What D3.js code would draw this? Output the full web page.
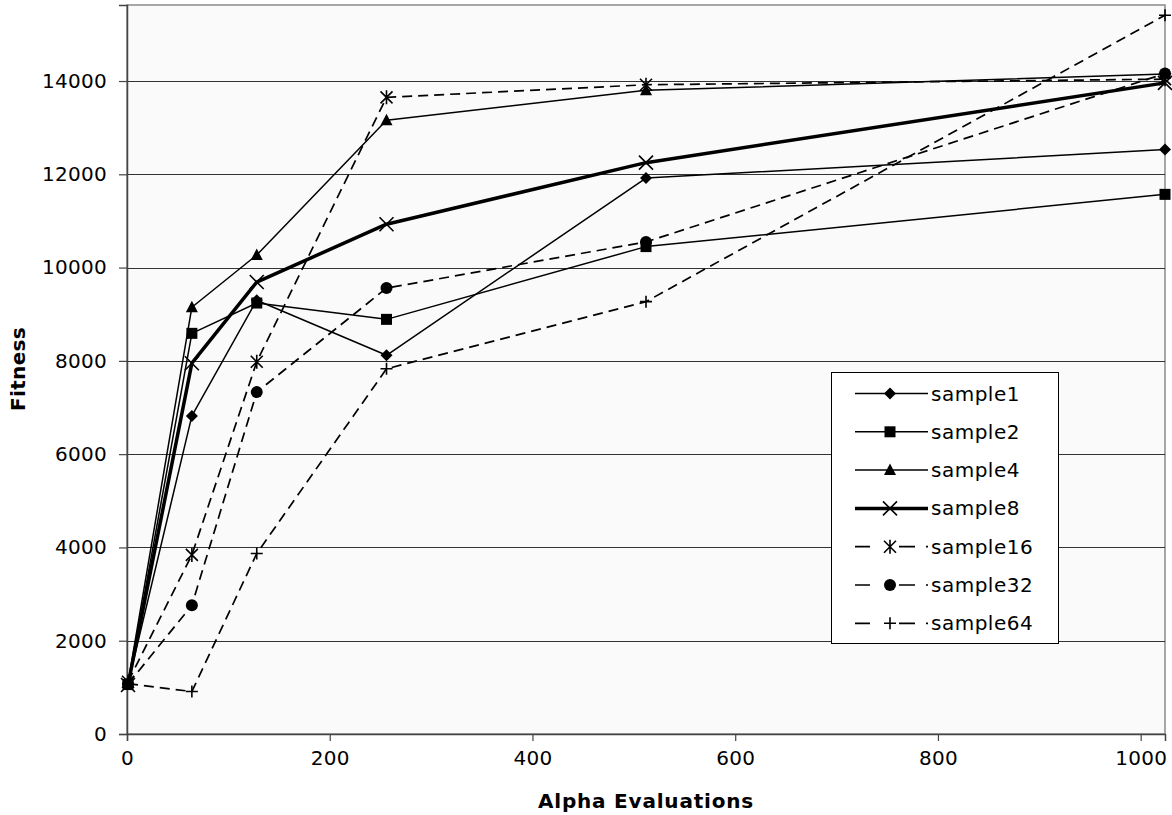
<!DOCTYPE html>
<html>
<head>
<meta charset="utf-8">
<script src="https://cdn.jsdelivr.net/npm/d3@7"></script>
<style>
  body { margin: 0; background: #fff; }
  text { font-family: "DejaVu Sans", Verdana, sans-serif; }
</style>
</head>
<body>
<script>
// Chart dimensions and margins
const width = 1172;
const height = 815;
const margin = { top: 5, right: 7, bottom: 81, left: 127 };

// Data
const evaluations = [1, 64, 128, 256, 512, 1024];
const sample1 = [1080, 6820, 9300, 8120, 11920, 12530];
const sample2 = [1060, 8590, 9240, 8890, 10450, 11570];
const sample4 = [1100, 9150, 10270, 13160, 13800, 14150];
const sample8 = [1050, 7950, 9690, 10930, 12250, 13960];
const sample16 = [1120, 3840, 7980, 13650, 13920, 14040];
const sample32 = [1070, 2760, 7330, 9560, 10550, 14160];
const sample64 = [1080, 910, 3870, 7830, 9270, 15410];
const xTicks = [0, 200, 400, 600, 800, 1000];
const yTicks = [0, 2000, 4000, 6000, 8000, 10000, 12000, 14000];

const series = [
  { name: "sample1", values: sample1, marker: "diamond", dashed: false, thick: false },
  { name: "sample2", values: sample2, marker: "square", dashed: false, thick: false },
  { name: "sample4", values: sample4, marker: "triangle", dashed: false, thick: false },
  { name: "sample8", values: sample8, marker: "times", dashed: false, thick: true },
  { name: "sample16", values: sample16, marker: "asterisk", dashed: true, thick: false },
  { name: "sample32", values: sample32, marker: "circle", dashed: true, thick: false },
  { name: "sample64", values: sample64, marker: "plus", dashed: true, thick: false }
];

const svg = d3.select("body").append("svg")
  .attr("width", width)
  .attr("height", height)
  .attr("viewBox", [0, 0, width, height]);

const x = d3.scaleLinear()
  .domain([0, 1024])
  .range([margin.left, width - margin.right]);

const y = d3.scaleLinear()
  .domain([0, 15630])
  .range([height - margin.bottom, margin.top]);

// Plot area background
svg.append("rect")
  .attr("x", margin.left)
  .attr("y", margin.top)
  .attr("width", width - margin.left - margin.right)
  .attr("height", height - margin.top - margin.bottom)
  .attr("fill", "#fafafa")
  .attr("stroke", "#8a8a8a")
  .attr("stroke-width", 1.5);

// Horizontal gridlines
svg.append("g")
  .selectAll("line")
  .data(yTicks.filter(d => d > 0))
  .join("line")
  .attr("x1", margin.left)
  .attr("x2", width - margin.right)
  .attr("y1", d => Math.round(y(d)) + 0.5)
  .attr("y2", d => Math.round(y(d)) + 0.5)
  .attr("stroke", "#333")
  .attr("stroke-width", 1);

// Axes
const yAxis = svg.append("g")
  .attr("transform", `translate(${margin.left},0)`)
  .call(d3.axisLeft(y).tickValues(yTicks).tickSize(8).tickPadding(12).tickFormat(d3.format("d")));

const xAxis = svg.append("g")
  .attr("transform", `translate(0,${height - margin.bottom})`)
  .call(d3.axisBottom(x).tickValues(xTicks).tickSize(7).tickPadding(10).tickFormat(d3.format("d")));

[yAxis, xAxis].forEach(g => {
  g.select(".domain").attr("stroke", "#444").attr("stroke-width", 1.5);
  g.selectAll(".tick line").attr("stroke", "#444").attr("stroke-width", 1.2);
  g.selectAll(".tick text")
    .attr("fill", "#000")
    .style("font-family", "'DejaVu Sans', Verdana, sans-serif")
    .style("font-size", "20px")
    .style("letter-spacing", "0.3px");
});

// Axis titles
svg.append("text")
  .attr("x", 646)
  .attr("y", 808)
  .attr("text-anchor", "middle")
  .style("font-size", "20px")
  .style("font-weight", "bold")
  .style("letter-spacing", "0.8px")
  .text("Alpha Evaluations");

svg.append("text")
  .attr("transform", `translate(25,369) rotate(-90)`)
  .attr("text-anchor", "middle")
  .style("font-size", "20px")
  .style("font-weight", "bold")
  .style("letter-spacing", "0.3px")
  .text("Fitness");

// Marker drawing
function drawMarker(g, type) {
  const sw = 1.6;
  switch (type) {
    case "diamond":
      g.append("path").attr("d", "M0,-6L6,0L0,6L-6,0Z").attr("fill", "#000");
      break;
    case "square":
      g.append("rect").attr("x", -5.5).attr("y", -5.5).attr("width", 11).attr("height", 11).attr("fill", "#000");
      break;
    case "triangle":
      g.append("path").attr("d", "M0,-6.5L6,5L-6,5Z").attr("fill", "#000");
      break;
    case "times":
      g.append("path").attr("d", "M-7,-7L7,7M-7,7L7,-7").attr("stroke", "#000").attr("stroke-width", sw).attr("fill", "none");
      break;
    case "asterisk":
      g.append("path").attr("d", "M-6,-6L6,6M-6,6L6,-6M0,-7L0,7").attr("stroke", "#000").attr("stroke-width", sw).attr("fill", "none");
      break;
    case "circle":
      g.append("circle").attr("r", 6).attr("fill", "#000");
      break;
    case "plus":
      g.append("path").attr("d", "M-6,0L6,0M0,-6L0,6").attr("stroke", "#000").attr("stroke-width", sw).attr("fill", "none");
      break;
  }
}

const line = d3.line()
  .x((d, i) => x(evaluations[i]))
  .y(d => y(d));

// Lines
svg.append("g")
  .selectAll("path")
  .data(series)
  .join("path")
  .attr("d", d => line(d.values))
  .attr("fill", "none")
  .attr("stroke", "#000")
  .attr("stroke-width", d => d.thick ? 3.5 : (d.dashed ? 1.7 : 1.5))
  .attr("stroke-dasharray", d => d.dashed ? "10,6" : null)
  .attr("stroke-linejoin", "round");

// Markers
series.forEach(s => {
  svg.append("g")
    .selectAll("g")
    .data(s.values)
    .join("g")
    .attr("transform", (d, i) => `translate(${x(evaluations[i])},${y(d)})`)
    .each(function () { drawMarker(d3.select(this), s.marker); });
});

// Legend
const legend = svg.append("g");
const legendX = 831, legendY = 372, legendW = 227, legendH = 271;
legend.append("rect")
  .attr("x", legendX + 0.5)
  .attr("y", legendY + 0.5)
  .attr("width", legendW)
  .attr("height", legendH)
  .attr("fill", "#fff")
  .attr("stroke", "#000")
  .attr("stroke-width", 1);

const item = legend.selectAll("g.item")
  .data(series)
  .join("g")
  .attr("class", "item")
  .attr("transform", (d, i) => `translate(0,${393.5 + i * 38.3})`);

item.append("line")
  .attr("x1", 855)
  .attr("x2", 928)
  .attr("stroke", "#000")
  .attr("stroke-width", d => d.thick ? 3.5 : (d.dashed ? 1.7 : 1.5))
  .attr("stroke-dasharray", d => d.dashed ? "15,29,16,11,2,100" : null);

item.append("g")
  .attr("transform", "translate(890,0)")
  .each(function (d) { drawMarker(d3.select(this), d.marker); });

item.append("text")
  .attr("x", 931)
  .attr("dy", "0.35em")
  .style("font-size", "20px")
  .style("letter-spacing", "0.5px")
  .text(d => d.name);
</script>
</body>
</html>
